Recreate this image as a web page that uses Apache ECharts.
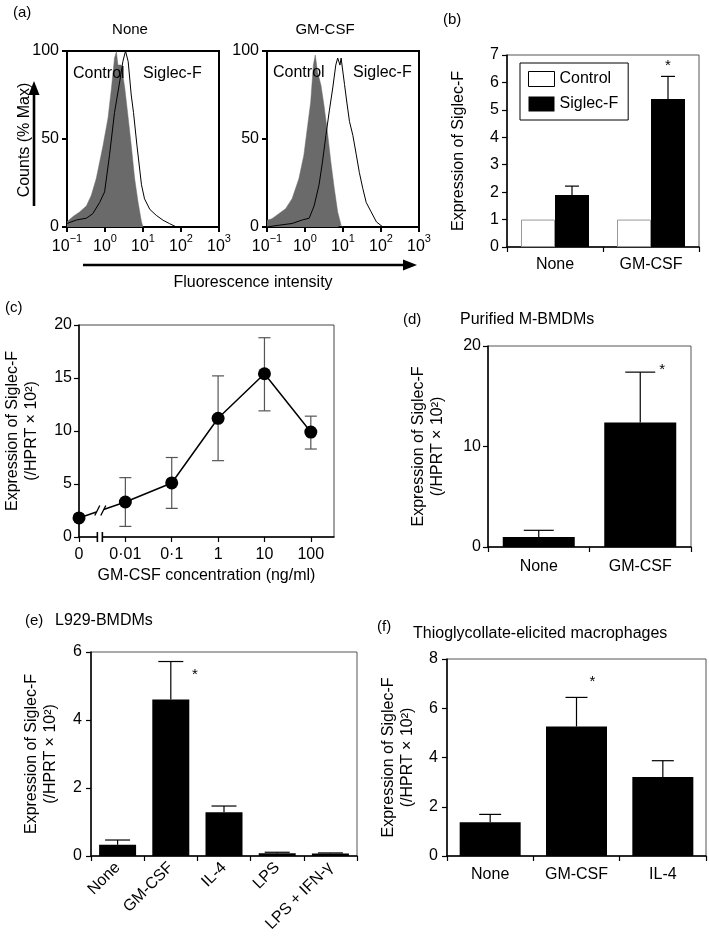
<!DOCTYPE html>
<html>
<head>
<meta charset="utf-8">
<script src="https://cdn.jsdelivr.net/npm/echarts@6/dist/echarts.min.js"></script>
<style>
  html, body { margin: 0; padding: 0; background: #fff; }
  #container { width: 709px; height: 936px; }
</style>
</head>
<body>
<div id="container"></div>
<script>
const FONT = '"Liberation Sans", Arial, Helvetica, sans-serif';

// (a) flow histograms: x = log10(fluorescence), y = counts (% max)
const noneControl = [[-1,3],[-0.84,6],[-0.67,8.5],[-0.49,12],[-0.36,18],[-0.23,27.5],[-0.05,46.5],[0.08,62],[0.17,79],[0.25,96],[0.30,99.6],[0.34,92],[0.43,92],[0.52,79],[0.61,62],[0.69,46.5],[0.78,27.5],[0.87,14],[0.96,3],[1.0,0]];
const noneSiglec = [[-1,2],[-0.75,4],[-0.49,5],[-0.32,7.6],[-0.14,14],[-0.01,20],[0.12,41],[0.25,65],[0.39,83],[0.47,94],[0.54,100],[0.61,94],[0.69,75],[0.75,65],[0.84,46.5],[0.96,24],[1.04,16],[1.18,10],[1.35,6.6],[1.53,3.8],[1.70,1.9],[1.88,0]];
const gmControl = [[-1,3.8],[-0.87,4.7],[-0.51,10.4],[-0.34,16.1],[-0.16,27.5],[-0.03,40.8],[0.06,56],[0.15,71],[0.22,92],[0.27,97.7],[0.33,88],[0.42,80.6],[0.50,69],[0.59,54],[0.68,37],[0.77,22],[0.86,8.5],[0.95,1],[0.99,0]];
const gmSiglec = [[-1,0],[-0.69,1],[-0.34,2],[-0.07,4],[0.11,5],[0.24,12],[0.37,24],[0.46,37],[0.55,52],[0.64,66],[0.73,79],[0.81,92],[0.86,96],[0.89,97],[0.92,92],[0.95,96],[1.04,81],[1.10,71],[1.17,60],[1.26,52],[1.35,41],[1.43,31],[1.52,22],[1.61,14],[1.74,8.6],[1.88,2.9],[2.05,0]];
const histTicks = ['−1', '0', '1', '2', '3'];

// (b)
const bCats = ['None', 'GM-CSF'];
const bControl = [1, 1];
const bSiglec = [1.9, 5.4];
const bSiglecTop = [2.22, 6.22];

// (c) dose response
const cConc = ['0', '0·01', '0·1', '1', '10', '100'];
const cMean = [1.8, 3.3, 5.1, 11.2, 15.4, 9.9];
const cLow = [1.8, 1.0, 2.7, 7.2, 11.9, 8.3];
const cHigh = [1.8, 5.6, 7.5, 15.2, 18.8, 11.4];

// (d)
const dCats = ['None', 'GM-CSF'];
const dMean = [1.0, 12.4];
const dTop = [1.66, 17.4];

// (e)
const eCats = ['None', 'GM-CSF', 'IL-4', 'LPS', 'LPS + IFN-γ'];
const eMean = [0.33, 4.6, 1.29, 0.08, 0.07];
const eTop = [0.47, 5.72, 1.47, 0.11, 0.09];

// (f)
const fCats = ['None', 'GM-CSF', 'IL-4'];
const fMean = [1.37, 5.26, 3.21];
const fTop = [1.69, 6.44, 3.87];

// significance stars: [category index, value]
const bStar = [[1, 6.6]];
const dStar = [[1, 17.6]];
const eStar = [[1, 5.32]];
const fStar = [[1, 7.07]];

const dom = document.getElementById('container');
const chart = echarts.init(dom, null, { renderer: 'canvas' });

const labelStyle = { color: '#000', fontSize: 16, fontFamily: FONT };
const nameStyle = { color: '#000', fontSize: 16, fontFamily: FONT, lineHeight: 19 };

function grid(left, top, width, height, bw, bc) {
  return { left, top, width, height, show: true, borderWidth: bw, borderColor: bc,
    backgroundColor: 'transparent', outerBoundsMode: 'none', containLabel: false };
}

function valAxis(idx, min, max, interval, extra) {
  return Object.assign({
    type: 'value', gridIndex: idx, min, max, interval,
    axisLine: { show: true, onZero: false, lineStyle: { color: '#000', width: 1.5 } },
    axisTick: { show: true, inside: false, length: 5, lineStyle: { color: '#000', width: 1.2 } },
    axisLabel: Object.assign({ margin: 8 }, labelStyle),
    splitLine: { show: false }
  }, extra || {});
}

function catAxis(idx, cats, extra) {
  return Object.assign({
    type: 'category', gridIndex: idx, data: cats,
    axisLine: { show: true, onZero: false, lineStyle: { color: '#000', width: 1.5 } },
    axisTick: { show: true, inside: false, length: 5, alignWithLabel: false, lineStyle: { color: '#000', width: 1.2 } },
    axisLabel: Object.assign({ margin: 10, interval: 0 }, labelStyle),
    splitLine: { show: false }
  }, extra || {});
}

// error bar: value(0)=x, value(1)=from, value(2)=to
function errBars(offset, cap, color, both) {
  return function (params, api) {
    const x = api.value(0);
    const p1 = api.coord([x, api.value(1)]);
    const p2 = api.coord([x, api.value(2)]);
    const cx = p1[0] + offset;
    const st = { stroke: color, lineWidth: 1.2 };
    const kids = [
      { type: 'line', shape: { x1: cx, y1: p1[1], x2: cx, y2: p2[1] }, style: st },
      { type: 'line', shape: { x1: cx - cap / 2, y1: p2[1], x2: cx + cap / 2, y2: p2[1] }, style: st }
    ];
    if (both) kids.push({ type: 'line', shape: { x1: cx - cap / 2, y1: p1[1], x2: cx + cap / 2, y2: p1[1] }, style: st });
    return { type: 'group', children: kids };
  };
}

function stars(offset) {
  return function (params, api) {
    const p = api.coord([api.value(0), api.value(1)]);
    return { type: 'text', x: p[0] + offset, y: p[1],
      style: { text: '*', font: '15px ' + FONT, fill: '#000', align: 'center', verticalAlign: 'middle' } };
  };
}

function errData(means, tops) {
  return means.map((m, i) => [i, m, tops[i]]);
}

const histX = (idx) => valAxis(idx, -1, 3, 1, {
  axisLine: { show: true, onZero: false, lineStyle: { color: '#000', width: 2 } },
  axisTick: { show: true, length: 5, lineStyle: { color: '#000', width: 2 } },
  axisLabel: {
    margin: 6, color: '#000', fontFamily: FONT,
    formatter: (v) => '{b|10}{s|' + histTicks[Math.round(v) + 1] + '}',
    rich: {
      b: { fontSize: 16, fontFamily: FONT, color: '#000', verticalAlign: 'bottom', lineHeight: 22 },
      s: { fontSize: 11, fontFamily: FONT, color: '#000', verticalAlign: 'top' }
    }
  }
});
const histY = (idx) => valAxis(idx, 0, 100, 50, {
  axisLine: { show: true, onZero: false, lineStyle: { color: '#000', width: 2 } },
  axisTick: { show: true, length: 5, lineStyle: { color: '#000', width: 2 } }
});

const option = {
  animation: false,
  backgroundColor: '#fff',
  textStyle: { fontFamily: FONT },
  legend: {
    data: [
      { name: 'Control', itemStyle: { color: '#fff', borderColor: '#000', borderWidth: 1 } },
      { name: 'Siglec-F' }
    ],
    left: 520, top: 63, orient: 'vertical', icon: 'rect',
    itemWidth: 26, itemHeight: 15, itemGap: 9,
    padding: [8, 10, 8, 8], borderColor: '#000', borderWidth: 1,
    textStyle: { color: '#000', fontSize: 16, fontFamily: FONT },
    selectedMode: false
  },
  grid: [
    grid(67, 51, 152, 176, 2, '#000'),
    grid(267, 51, 152, 176, 2, '#000'),
    grid(507, 55, 192, 192, 1, '#555'),
    grid(79, 325, 255, 212, 1, '#444'),
    grid(488, 346, 203, 201, 1, '#555'),
    grid(91, 652, 266, 204, 1, '#555'),
    grid(447, 659, 259, 197, 1, '#555')
  ],
  xAxis: [
    histX(0),
    histX(1),
    catAxis(2, bCats),
    valAxis(3, 0, 5.5, 1, {
      axisLabel: Object.assign({ margin: 10, formatter: (v) => cConc[v] || '', customValues: [0, 1, 2, 3, 4, 5] }, labelStyle),
      axisTick: { show: true, length: 5, customValues: [0, 1, 2, 3, 4, 5], lineStyle: { color: '#000', width: 1.2 } },
      name: 'GM-CSF concentration (ng/ml)', nameLocation: 'middle', nameGap: 29, nameTextStyle: nameStyle
    }),
    catAxis(4, dCats, { axisLabel: Object.assign({ margin: 12, interval: 0 }, labelStyle) }),
    catAxis(5, eCats, { axisLabel: Object.assign({ margin: 9, interval: 0, rotate: 45 }, labelStyle) }),
    catAxis(6, fCats, { axisLabel: Object.assign({ margin: 11, interval: 0 }, labelStyle) })
  ],
  yAxis: [
    histY(0),
    histY(1),
    valAxis(2, 0, 7, 1, { name: 'Expression of Siglec-F', nameLocation: 'middle', nameGap: 39, nameTextStyle: nameStyle }),
    valAxis(3, 0, 20, 5, { name: 'Expression of Siglec-F\n(/HPRT × 10²)', nameLocation: 'middle', nameGap: 38, nameTextStyle: nameStyle,
      axisLabel: Object.assign({ margin: 7 }, labelStyle) }),
    valAxis(4, 0, 20, 10, { name: 'Expression of Siglec-F\n(/HPRT × 10²)', nameLocation: 'middle', nameGap: 41, nameTextStyle: nameStyle,
      axisLabel: Object.assign({ margin: 7 }, labelStyle) }),
    valAxis(5, 0, 6, 2, { name: 'Expression of Siglec-F\n(/HPRT × 10²)', nameLocation: 'middle', nameGap: 31, nameTextStyle: nameStyle,
      axisLabel: Object.assign({ margin: 9 }, labelStyle) }),
    valAxis(6, 0, 8, 2, { name: 'Expression of Siglec-F\n(/HPRT × 10²)', nameLocation: 'middle', nameGap: 30, nameTextStyle: nameStyle,
      axisLabel: Object.assign({ margin: 9 }, labelStyle) })
  ],
  series: [
    // (a) histograms
    { name: 'None control', type: 'line', xAxisIndex: 0, yAxisIndex: 0, data: noneControl, showSymbol: false,
      lineStyle: { width: 0.5, color: '#6a6a6a' }, areaStyle: { color: '#6a6a6a', opacity: 1 }, z: 2 },
    { name: 'None siglec', type: 'line', xAxisIndex: 0, yAxisIndex: 0, data: noneSiglec, showSymbol: false,
      lineStyle: { width: 1, color: '#000' }, z: 3 },
    { name: 'GM control', type: 'line', xAxisIndex: 1, yAxisIndex: 1, data: gmControl, showSymbol: false,
      lineStyle: { width: 0.5, color: '#6a6a6a' }, areaStyle: { color: '#6a6a6a', opacity: 1 }, z: 2 },
    { name: 'GM siglec', type: 'line', xAxisIndex: 1, yAxisIndex: 1, data: gmSiglec, showSymbol: false,
      lineStyle: { width: 1, color: '#000' }, z: 3 },

    // (b)
    { name: 'Control', type: 'bar', xAxisIndex: 2, yAxisIndex: 2, data: bControl, barWidth: 34, barGap: '0%',
      itemStyle: { color: '#fff', borderColor: '#999', borderWidth: 1 } },
    { name: 'Siglec-F', type: 'bar', xAxisIndex: 2, yAxisIndex: 2, data: bSiglec, barWidth: 34, barGap: '0%',
      itemStyle: { color: '#000' } },
    { type: 'custom', xAxisIndex: 2, yAxisIndex: 2, data: errData(bSiglec, bSiglecTop),
      renderItem: errBars(17, 14, '#000', false), z: 5, clip: false },
    { type: 'custom', xAxisIndex: 2, yAxisIndex: 2, data: bStar, renderItem: stars(17), z: 5, clip: false },

    // (c)
    { type: 'custom', xAxisIndex: 3, yAxisIndex: 3, data: cLow.map((v, i) => [i, v, cHigh[i]]),
      renderItem: (params, api) => {
        const x = api.value(0);
        const p1 = api.coord([x, api.value(1)]);
        const p2 = api.coord([x, api.value(2)]);
        const st = { stroke: '#555', lineWidth: 1.2 };
        return { type: 'group', children: [
          { type: 'line', shape: { x1: p1[0], y1: p1[1], x2: p2[0], y2: p2[1] }, style: st },
          { type: 'line', shape: { x1: p1[0] - 6, y1: p1[1], x2: p1[0] + 6, y2: p1[1] }, style: st },
          { type: 'line', shape: { x1: p2[0] - 6, y1: p2[1], x2: p2[0] + 6, y2: p2[1] }, style: st }
        ] };
      }, z: 3, clip: false },
    { type: 'line', xAxisIndex: 3, yAxisIndex: 3, data: cMean.map((v, i) => [i, v]),
      symbol: 'circle', symbolSize: 13, showSymbol: true,
      itemStyle: { color: '#000' }, lineStyle: { color: '#000', width: 1.5 }, z: 4 },

    // (d)
    { type: 'bar', xAxisIndex: 4, yAxisIndex: 4, data: dMean, barWidth: 72, itemStyle: { color: '#000' } },
    { type: 'custom', xAxisIndex: 4, yAxisIndex: 4, data: errData(dMean, dTop),
      renderItem: errBars(0, 30, '#000', false), z: 5, clip: false },
    { type: 'custom', xAxisIndex: 4, yAxisIndex: 4, data: dStar, renderItem: stars(22), z: 5, clip: false },

    // (e)
    { type: 'bar', xAxisIndex: 5, yAxisIndex: 5, data: eMean, barWidth: 37, itemStyle: { color: '#000' } },
    { type: 'custom', xAxisIndex: 5, yAxisIndex: 5, data: errData(eMean, eTop),
      renderItem: errBars(0, 25, '#000', false), z: 5, clip: false },
    { type: 'custom', xAxisIndex: 5, yAxisIndex: 5, data: eStar, renderItem: stars(24), z: 5, clip: false },

    // (f)
    { type: 'bar', xAxisIndex: 6, yAxisIndex: 6, data: fMean, barWidth: 61, itemStyle: { color: '#000' } },
    { type: 'custom', xAxisIndex: 6, yAxisIndex: 6, data: errData(fMean, fTop),
      renderItem: errBars(0, 22, '#000', false), z: 5, clip: false },
    { type: 'custom', xAxisIndex: 6, yAxisIndex: 6, data: fStar, renderItem: stars(16), z: 5, clip: false }
  ]
};

chart.setOption(option);

// annotations: panel letters, titles, arrows, axis breaks
function txt(text, x, y, size, align, rot) {
  return { type: 'text', x, y, rotation: rot || 0, z: 100,
    style: { text, font: size + 'px ' + FONT, fill: '#000', align: align || 'left', verticalAlign: 'middle' } };
}
function seg(x1, y1, x2, y2, w) {
  return { type: 'line', z: 100, shape: { x1, y1, x2, y2 }, style: { stroke: '#000', lineWidth: w || 1.3 } };
}

const els = [
  txt('(a)', 13, 13, 15), txt('(b)', 443, 20, 15), txt('(c)', 5, 308, 15),
  txt('(d)', 403, 320, 15), txt('(e)', 25, 621, 15), txt('(f)', 377, 627, 15),
  txt('None', 130, 30, 15, 'center'), txt('GM-CSF', 325, 30, 15, 'center'),
  txt('Purified M-BMDMs', 460, 320, 16), txt('L929-BMDMs', 55, 621, 16),
  txt('Thioglycollate-elicited macrophages', 413, 634, 16),
  txt('Control', 73, 74, 16), txt('Siglec-F', 143, 74, 16),
  txt('Control', 273, 73, 16), txt('Siglec-F', 353, 73, 16),
  txt('Counts (% Max)', 25, 140, 16, 'center', Math.PI / 2),
  txt('Fluorescence intensity', 253, 283, 16, 'center'),
  // vertical arrow
  seg(34, 206, 34, 92, 2.6),
  { type: 'polygon', z: 100, shape: { points: [[34, 81], [28.5, 95], [39.5, 95]] }, style: { fill: '#000' } },
  // horizontal arrow
  seg(83, 265, 405, 265, 2.6),
  { type: 'polygon', z: 100, shape: { points: [[417, 265], [403, 259.5], [403, 270.5]] }, style: { fill: '#000' } }
];

// axis break on (c) x axis
const pa = chart.convertToPixel({ xAxisIndex: 3, yAxisIndex: 3 }, [0.45, 0]);
els.push({ type: 'rect', z: 100, shape: { x: pa[0] - 2.5, y: pa[1] - 2, width: 5, height: 4 }, style: { fill: '#fff' } });
els.push(seg(pa[0] - 2.5, pa[1] - 5, pa[0] - 2.5, pa[1] + 5, 1.6));
els.push(seg(pa[0] + 2.5, pa[1] - 5, pa[0] + 2.5, pa[1] + 5, 1.6));
// break on the connecting line between 0 and 0·01
const bx = 0.47;
const pl = chart.convertToPixel({ xAxisIndex: 3, yAxisIndex: 3 }, [bx, cMean[0] + (cMean[1] - cMean[0]) * bx]);
els.push({ type: 'polygon', z: 100, shape: { points: [[pl[0] - 5, pl[1] + 3], [pl[0] - 1, pl[1] - 5], [pl[0] + 5, pl[1] - 5], [pl[0] + 1, pl[1] + 3]] }, style: { fill: '#fff' } });
els.push(seg(pl[0] - 6, pl[1] + 5, pl[0] - 1, pl[1] - 5, 1.3));
els.push(seg(pl[0] + 0, pl[1] + 5, pl[0] + 5, pl[1] - 5, 1.3));

chart.setOption({ graphic: { elements: els } });
</script>
</body>
</html>
